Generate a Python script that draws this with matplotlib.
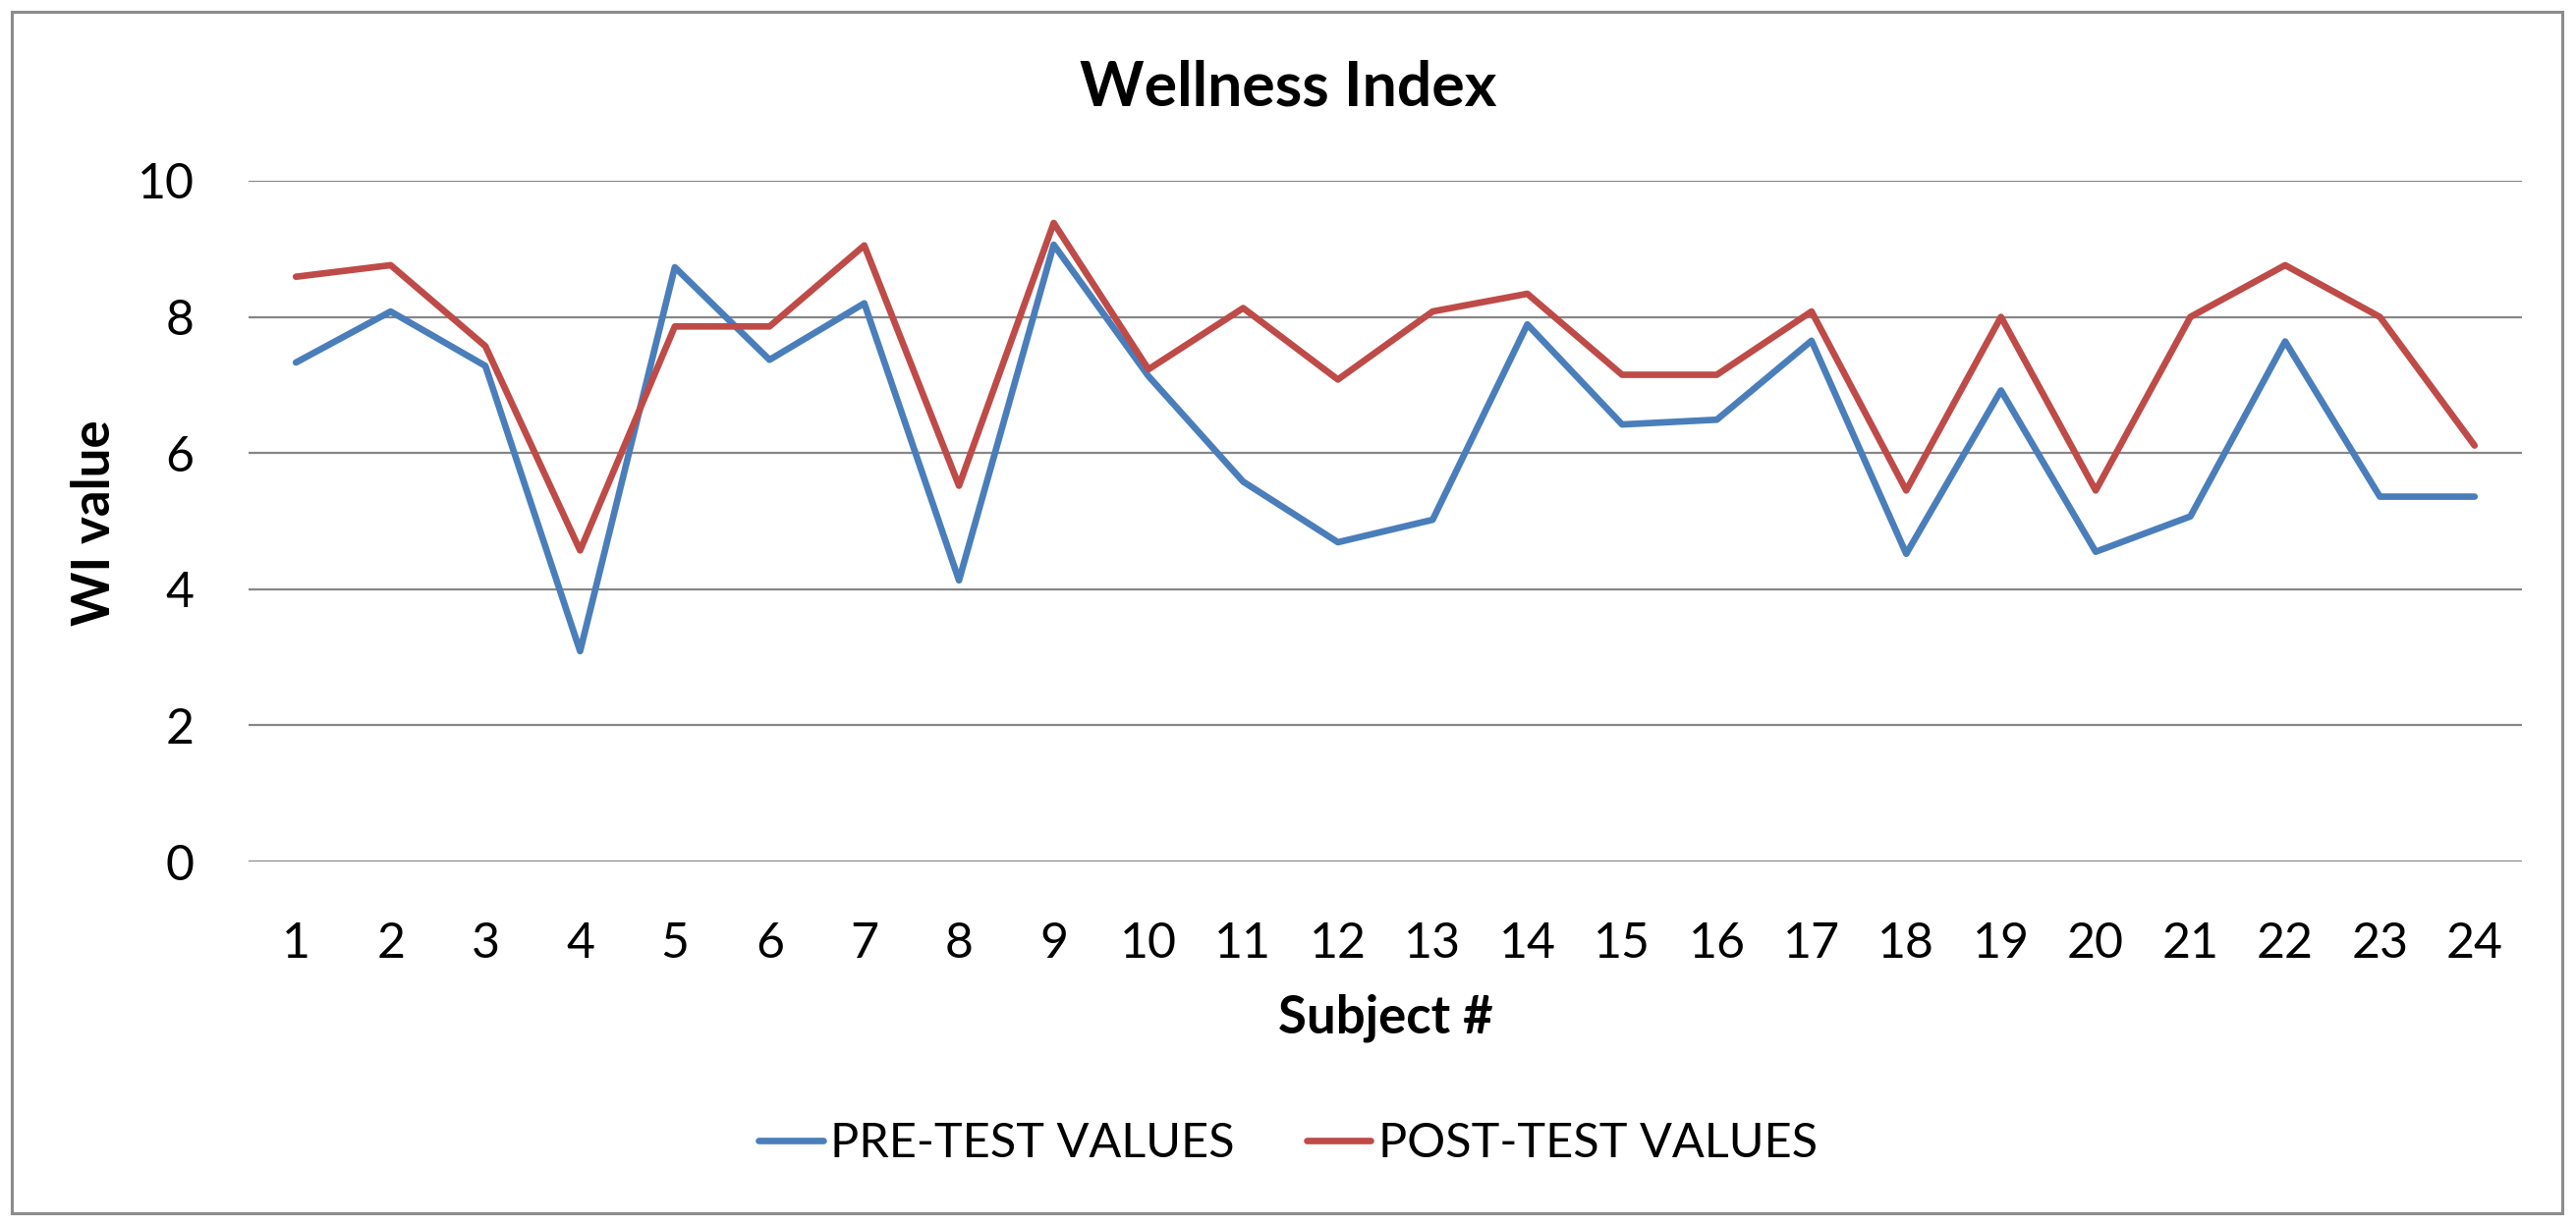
import matplotlib
matplotlib.use("Agg")
import matplotlib.pyplot as plt
from matplotlib.patches import Rectangle

subjects = list(range(1, 25))
pre_test = [7.33, 8.08, 7.28, 3.09, 8.73, 7.37, 8.20, 4.13, 9.06, 7.13, 5.58, 4.69,
            5.02, 7.89, 6.42, 6.49, 7.65, 4.52, 6.92, 4.55, 5.07, 7.64, 5.36, 5.36]
post_test = [8.59, 8.76, 7.57, 4.57, 7.86, 7.86, 9.05, 5.52, 9.38, 7.23, 8.13, 7.08,
             8.08, 8.34, 7.15, 7.15, 8.08, 5.45, 8.00, 5.45, 8.00, 8.76, 8.00, 6.11]
y_ticks = [0, 2, 4, 6, 8, 10]

title = "Wellness Index"
x_label = "Subject #"
y_label = "WI value"
series_names = ["PRE-TEST VALUES", "POST-TEST VALUES"]
colors = ["#4A7EBB", "#BE4B48"]

plt.rcParams['font.family'] = ['Lato', 'DejaVu Sans']

W, H = 2622, 1247
fig = plt.figure(figsize=(W / 100, H / 100), dpi=100)
fig.patch.set_facecolor("white")

# outer chart border
fig.patches.append(Rectangle((12 / W, 12 / H), (2608 - 12) / W, (1235 - 12) / H,
                             transform=fig.transFigure, fill=False,
                             edgecolor="#8C8C8C", linewidth=2.2))

left, right = 253 / W, 2567 / W
top, bottom = 1 - 184 / H, 1 - 877 / H
ax = fig.add_axes([left, bottom, right - left, top - bottom])

ax.plot(subjects, pre_test, color=colors[0], linewidth=4.8, label=series_names[0],
        solid_joinstyle="round", solid_capstyle="round", zorder=3)
ax.plot(subjects, post_test, color=colors[1], linewidth=4.8, label=series_names[1],
        solid_joinstyle="round", solid_capstyle="round", zorder=3)

ax.set_xlim(0.5, 24.5)
ax.set_ylim(0, 10)
ax.set_yticks(y_ticks)
ax.set_xticks(subjects)
ax.set_xticklabels([str(s) for s in subjects])
ax.yaxis.grid(True, color="#868686", linewidth=1.6)
ax.set_axisbelow(True)
for sp in ax.spines.values():
    sp.set_visible(False)
ax.tick_params(axis="both", length=0, labelsize=36)
ax.tick_params(axis="y", pad=40)
ax.tick_params(axis="x", pad=44)

fig.text(0.5, 1 - 90 / H, title, fontsize=45, fontweight="bold",
         ha="center", va="center")
ax.set_xlabel(x_label, fontsize=38, fontweight="bold", labelpad=20)
fig.text(97 / W, 1 - 532 / H, y_label, fontsize=38, fontweight="bold",
         rotation=90, ha="center", va="center")

fig.legend(loc="center", bbox_to_anchor=(0.5, 1 - 1164 / H), ncol=2, frameon=False,
           fontsize=35, handlelength=1.35, handletextpad=0.15, columnspacing=1.5)

fig.savefig("out.png", dpi=100, facecolor="white")
